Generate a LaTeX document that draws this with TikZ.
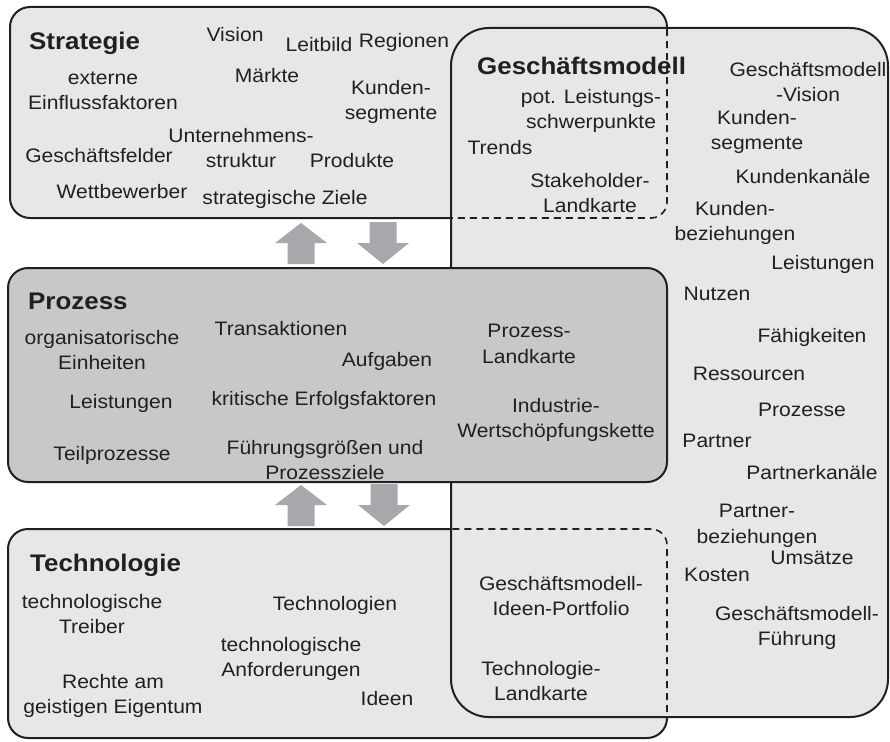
\documentclass[tikz,border=0pt]{standalone}
\usepackage{fontspec}
\setmainfont{Liberation Sans}[FakeStretch=1.08]
\definecolor{boxfill}{HTML}{E6E7E8}
\definecolor{procfill}{HTML}{C7C8CA}
\definecolor{arrowgray}{HTML}{A6A8AB}
\definecolor{ink}{HTML}{231F20}
\begin{document}
\begin{tikzpicture}[x=1pt,y=-1pt,
  outline/.style={draw=ink, line width=2pt},
  innerline/.style={draw=ink, line width=1.6pt, dash pattern=on 7pt off 5pt},
  lbl/.style={font=\fontsize{19.5}{25.5}\selectfont, align=center, inner sep=0pt, text=ink},
  ttl/.style={font=\fontsize{24}{28}\selectfont\bfseries, anchor=west, inner sep=0pt, text=ink},
  uparr/.pic={\fill[arrowgray] (-13.5,21) -- (-13.5,0) -- (-26,0) -- (0,-20) -- (26,0) -- (13.5,0) -- (13.5,21) -- cycle;},
  downarr/.pic={\fill[arrowgray] (-13.5,-21) -- (-13.5,0) -- (-26,0) -- (0,21) -- (26,0) -- (13.5,0) -- (13.5,-21) -- cycle;}]
\useasboundingbox (0,0) rectangle (890,741);

% corner points of the four areas
\coordinate (sNW) at (10,7);   \coordinate (sSE) at (667,218);
\coordinate (pNW) at (8,268);  \coordinate (pSE) at (667,482);
\coordinate (tNW) at (8,529);  \coordinate (tSE) at (667,738);
\coordinate (gNW) at (451,28); \coordinate (gSE) at (888,717);

% strategy and technology areas
\path[outline, fill=boxfill, rounded corners=20pt] (sNW) rectangle (sSE);
\path[outline, fill=boxfill, rounded corners=20pt] (tNW) rectangle (tSE);

% business model area laid over them
\path[outline, fill=boxfill, rounded corners=38pt] (gNW) rectangle (gSE);

% overlapping parts of strategy and technology shown dashed
\begin{scope}
  \clip[rounded corners=38pt] (gNW) rectangle (gSE);
  \draw[innerline, rounded corners=16pt] (sNW) rectangle (sSE);
  \draw[innerline, rounded corners=16pt] (tNW) rectangle (tSE);
\end{scope}

% process area on top
\path[outline, fill=procfill, rounded corners=20pt] (pNW) rectangle (pSE);

% exchange arrows between the layers
\pic at (301,243) {uparr};
\pic at (383,243) {downarr};
\pic at (301,505) {uparr};
\pic at (384,505) {downarr};

% Strategie
\node[ttl] (stitle) at (29,43) {Strategie};
\node[lbl] (vision) at (235,35) {Vision};
\node[lbl] (leitbild) at (319,45) {Leitbild};
\node[lbl] (regionen) at (404,42) {Regionen};
\node[lbl] (extern) at (103,91) {externe\\Einflussfaktoren};
\node[lbl] (maerkte) at (267,76) {Märkte};
\node[lbl] (kundseg) at (391,102) {Kunden-\\segmente};
\node[lbl] (unstr) at (241,148) {Unternehmens-\\struktur};
\node[lbl] (gfelder) at (99,156) {Geschäftsfelder};
\node[lbl] (produkte) at (352,161) {Produkte};
\node[lbl] (wettb) at (122,192) {Wettbewerber};
\node[lbl] (sziele) at (285,199) {strategische Ziele};

% Geschäftsmodell
\node[ttl] (gtitle) at (477,66) {Geschäftsmodell};
\node[lbl] (gmvision) at (808,82) {Geschäftsmodell\\-Vision};
\node[lbl] (potleist) at (591,111) {pot. Leistungs-\\schwerpunkte};
\node[lbl] (gkundseg) at (757,132) {Kunden-\\segmente};
\node[lbl] (trends) at (500,148) {Trends};
\node[lbl] (kkanaele) at (803,177) {Kundenkanäle};
\node[lbl] (stakeh) at (590,193) {Stakeholder-\\Landkarte};
\node[lbl] (kbezieh) at (735,223) {Kunden-\\beziehungen};
\node[lbl] (gleist) at (823,264) {Leistungen};
\node[lbl] (nutzen) at (717,294) {Nutzen};
\node[lbl] (faehig) at (812,337) {Fähigkeiten};
\node[lbl] (ressourc) at (749,374) {Ressourcen};
\node[lbl] (prozesse) at (802,410) {Prozesse};
\node[lbl] (partner) at (717,441) {Partner};
\node[lbl] (pkanaele) at (812,473) {Partnerkanäle};
\node[lbl] (pbezieh) at (757,526) {Partner-\\beziehungen};
\node[lbl] (umsaetze) at (812,558) {Umsätze};
\node[lbl] (kosten) at (717,575) {Kosten};
\node[lbl] (gmfuehr) at (797,628) {Geschäftsmodell-\\Führung};
\node[lbl] (ideenpf) at (561,596) {Geschäftsmodell-\\Ideen-Portfolio};
\node[lbl] (techlk) at (541,681) {Technologie-\\Landkarte};

% Prozess
\node[ttl] (ptitle) at (28,301) {Prozess};
\node[lbl] (orgein) at (102,350) {organisatorische\\Einheiten};
\node[lbl] (transak) at (281,329) {Transaktionen};
\node[lbl] (aufgaben) at (387,361) {Aufgaben};
\node[lbl] (plk) at (529,344) {Prozess-\\Landkarte};
\node[lbl] (pleist) at (121,403) {Leistungen};
\node[lbl] (kef) at (324,400) {kritische Erfolgsfaktoren};
\node[lbl] (iwsk) at (556,420) {Industrie-\\Wertschöpfungskette};
\node[lbl] (teilp) at (112,455) {Teilprozesse};
\node[lbl] (fuehrg) at (325,460) {Führungsgrößen und\\Prozessziele};

% Technologie
\node[ttl] (ttitle) at (30,565) {Technologie};
\node[lbl] (techtr) at (92,614) {technologische\\Treiber};
\node[lbl] (techn) at (335,605) {Technologien};
\node[lbl] (techanf) at (291,659) {technologische\\Anforderungen};
\node[lbl] (rechte) at (113,696) {Rechte am\\geistigen Eigentum};
\node[lbl] (ideen) at (387,699) {Ideen};
\end{tikzpicture}
\end{document}
